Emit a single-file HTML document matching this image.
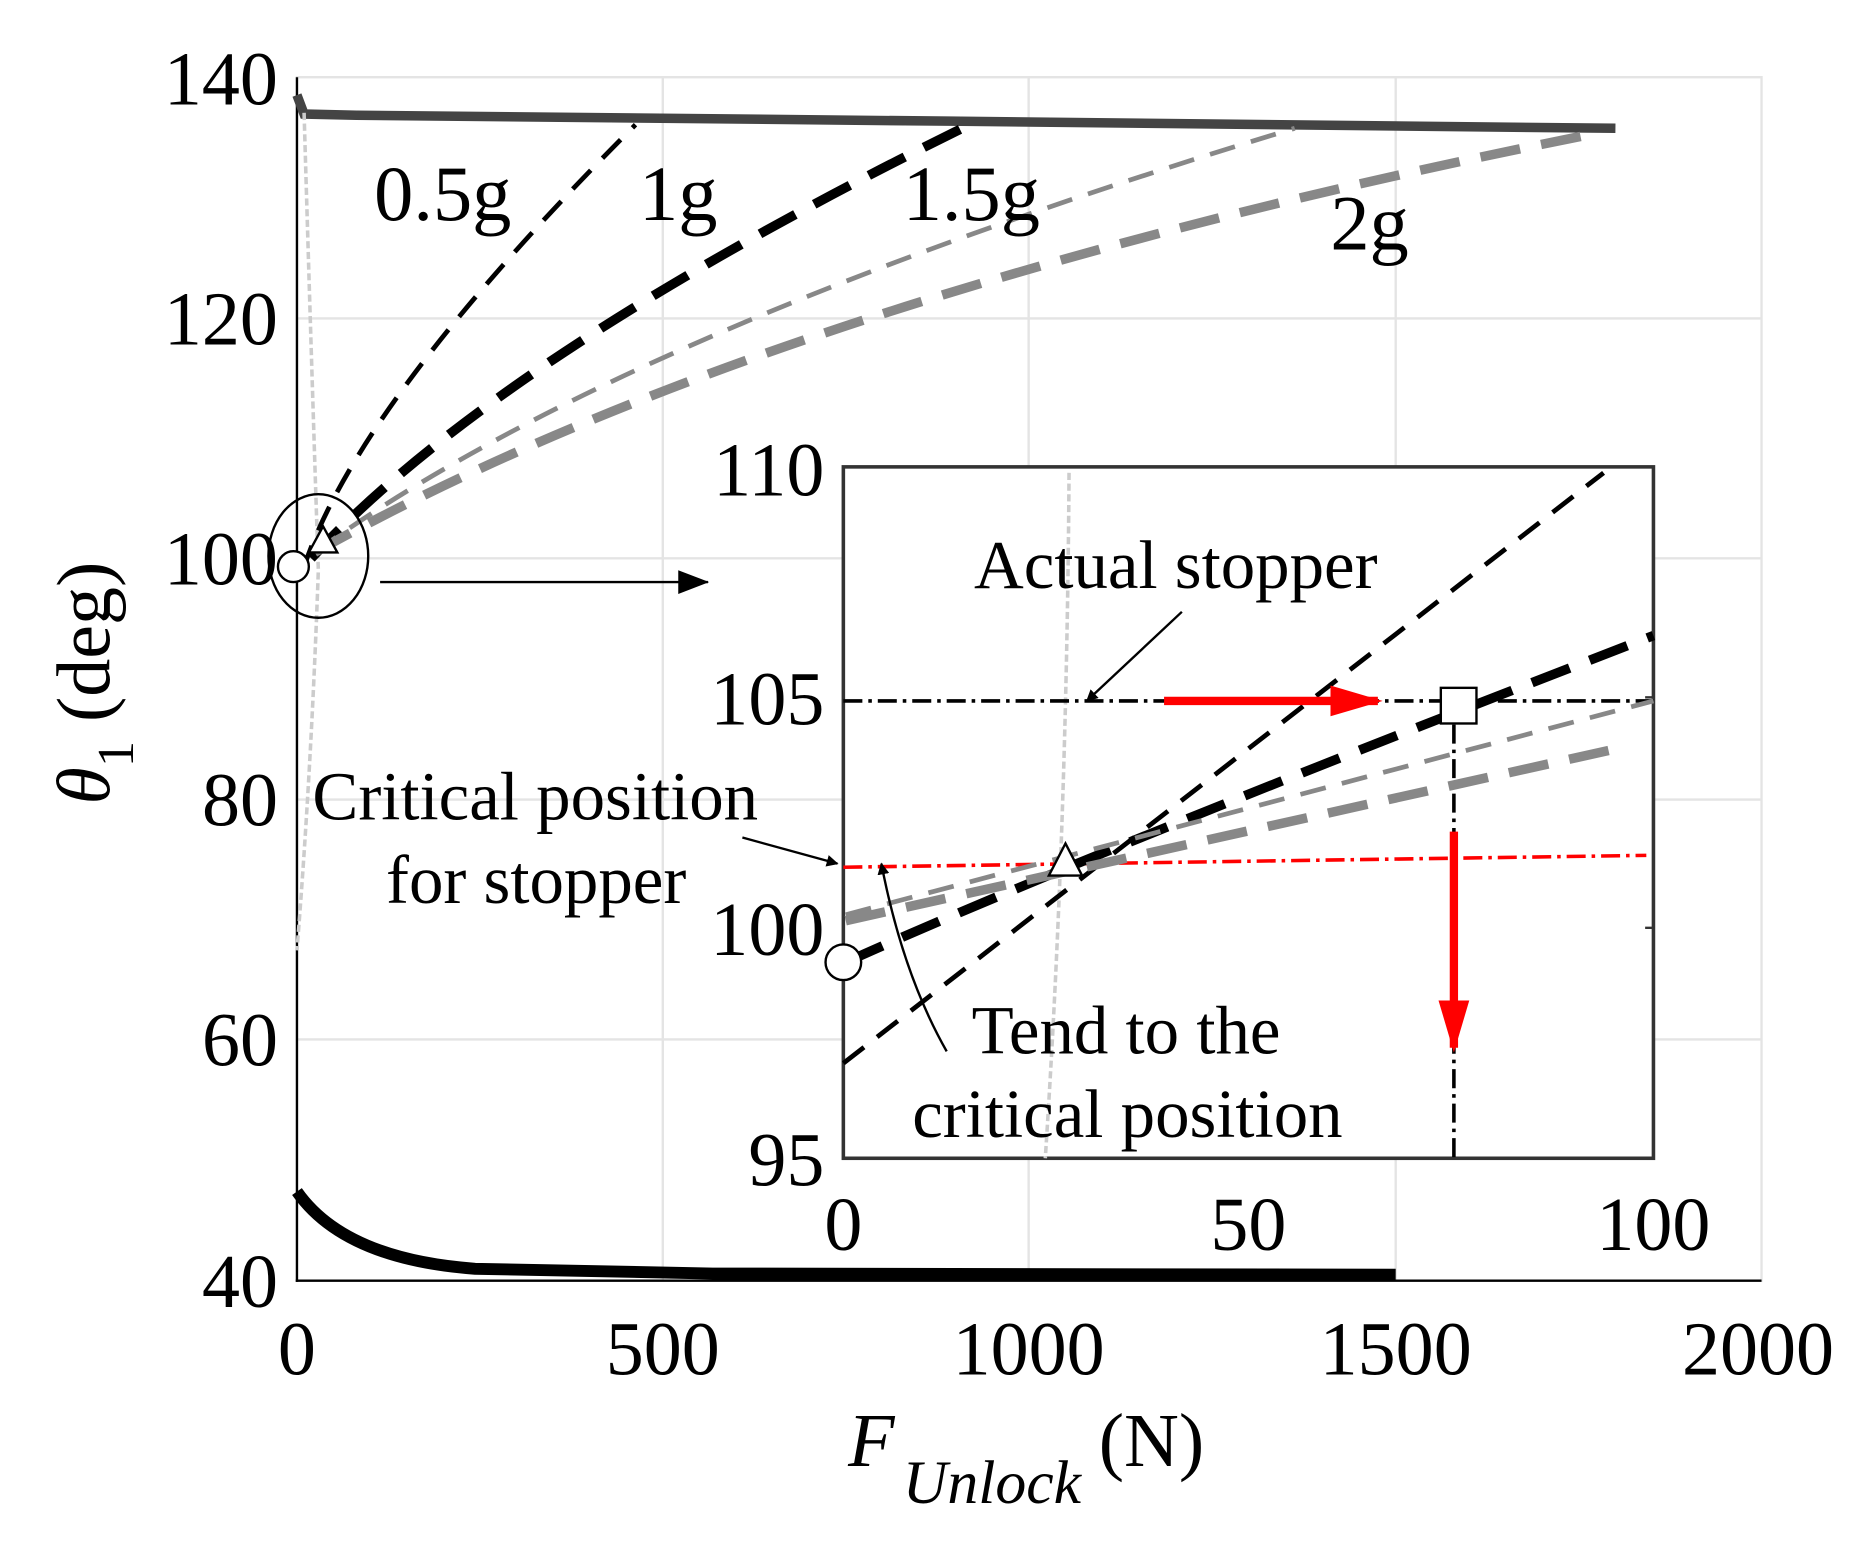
<!DOCTYPE html>
<html><head><style>html,body{margin:0;padding:0;background:#fff}svg{display:block}</style></head><body>
<svg width="1853" height="1542" viewBox="0 0 1560 1298" preserveAspectRatio="none" xmlns="http://www.w3.org/2000/svg" font-family="Liberation Serif, serif">
<defs>
<marker id="ab" markerWidth="10" markerHeight="10" refX="9" refY="5" orient="auto" markerUnits="userSpaceOnUse"><path d="M0,0 L10,5 L0,10z" fill="#000"/></marker>
<marker id="ab2" markerWidth="26" markerHeight="20" refX="25" refY="10" orient="auto" markerUnits="userSpaceOnUse"><path d="M0,0 L26,10 L0,20z" fill="#000"/></marker>
<marker id="ar" markerWidth="44" markerHeight="26" refX="40" refY="13" orient="auto" markerUnits="userSpaceOnUse"><path d="M0,0 L44,13 L0,26z" fill="#f00"/></marker>
</defs>
<g stroke="#e4e4e4" stroke-width="2">
<line x1="250" y1="268" x2="1483" y2="268"/><line x1="250" y1="470" x2="1483" y2="470"/><line x1="250" y1="673" x2="1483" y2="673"/><line x1="250" y1="875" x2="1483" y2="875"/>
<line x1="558" y1="65" x2="558" y2="1078"/><line x1="866" y1="65" x2="866" y2="1078"/><line x1="1175" y1="65" x2="1175" y2="1078"/>
<rect x="250" y="65" width="1233" height="1013" fill="none"/>
</g>
<line x1="250" y1="65" x2="250" y2="1079" stroke="#000" stroke-width="2"/>
<line x1="249" y1="1078" x2="1483" y2="1078" stroke="#000" stroke-width="2"/>
<g font-size="64" text-anchor="end">
<text x="234" y="88">140</text><text x="234" y="290">120</text><text x="234" y="492">100</text><text x="234" y="695">80</text><text x="234" y="897">60</text><text x="234" y="1100">40</text>
</g>
<g font-size="64" text-anchor="middle">
<text x="250" y="1157">0</text><text x="558" y="1157">500</text><text x="866" y="1157">1000</text><text x="1175" y="1157">1500</text><text x="1480" y="1157">2000</text>
</g>
<text font-size="64" font-style="italic" x="714" y="1234">F</text>
<text font-size="52" font-style="italic" x="760" y="1265">Unlock</text>
<text font-size="64" x="925" y="1234">(N)</text>
<g transform="translate(92,575) rotate(-90)"><text font-size="64" text-anchor="middle"><tspan font-style="italic">θ</tspan><tspan font-size="44" dy="20">1</tspan><tspan dy="-20"> (deg)</tspan></text></g>
<path d="M250,80 L256,96 L300,97 L800,102 L1360,108" fill="none" stroke="#444" stroke-width="8"/>
<path d="M250,1003 Q290,1060 400,1068 L600,1072 L1175,1073" fill="none" stroke="#000" stroke-width="10"/>
<path d="M256,95 Q262,300 268,480 Q262,650 250,800" fill="none" stroke="#ccc" stroke-width="3" stroke-dasharray="6,3"/>
<path d="M255,480 Q300,340 535,105" fill="none" stroke="#000" stroke-width="4" stroke-dasharray="22,14"/>
<path d="M262,470 Q420,300 810,108" fill="none" stroke="#000" stroke-width="8" stroke-dasharray="34,18"/>
<path d="M265,465 Q520,280 1090,108" fill="none" stroke="#888" stroke-width="4" stroke-dasharray="22,14"/>
<path d="M265,465 Q650,250 1345,112" fill="none" stroke="#888" stroke-width="8" stroke-dasharray="34,18"/>
<ellipse cx="268" cy="468" rx="42" ry="52" fill="none" stroke="#000" stroke-width="2"/>
<circle cx="247" cy="477" r="13" fill="#fff" stroke="#000" stroke-width="2"/>
<path d="M272,443 L284,465 L260,465z" fill="#fff" stroke="#000" stroke-width="2"/>
<line x1="320" y1="490" x2="596" y2="490" stroke="#000" stroke-width="2" marker-end="url(#ab2)"/>
<g font-size="66"><text x="315" y="185">0.5g</text><text x="538" y="185">1g</text><text x="760" y="185">1.5g</text><text x="1120" y="210">2g</text></g>
<rect x="710" y="393" width="682" height="582" fill="#fff" stroke="#333" stroke-width="3"/>
<line x1="1385" y1="587" x2="1392" y2="587" stroke="#333" stroke-width="2"/>
<line x1="1385" y1="781" x2="1392" y2="781" stroke="#333" stroke-width="2"/>
<path d="M900,398 Q898,700 880,975" fill="none" stroke="#ccc" stroke-width="3" stroke-dasharray="6,3"/>
<line x1="710" y1="590" x2="1392" y2="590" stroke="#000" stroke-width="3" stroke-dasharray="16,5,3,5"/>
<line x1="710" y1="730" x2="1386" y2="720" stroke="#f00" stroke-width="3" stroke-dasharray="16,5,3,5"/>
<line x1="1224" y1="610" x2="1224" y2="975" stroke="#000" stroke-width="3" stroke-dasharray="16,5,3,5"/>
<path d="M710,895 L1350,398" fill="none" stroke="#000" stroke-width="4" stroke-dasharray="22,14"/>
<path d="M712,810 Q900,725 1392,535" fill="none" stroke="#000" stroke-width="8" stroke-dasharray="34,18"/>
<path d="M712,770 L1392,590" fill="none" stroke="#888" stroke-width="4" stroke-dasharray="22,14"/>
<path d="M712,775 L1362,630" fill="none" stroke="#888" stroke-width="8" stroke-dasharray="34,18"/>
<line x1="980" y1="590" x2="1160" y2="590" stroke="#f00" stroke-width="7" marker-end="url(#ar)"/>
<line x1="1224" y1="700" x2="1224" y2="882" stroke="#f00" stroke-width="7" marker-end="url(#ar)"/>
<rect x="1213" y="579" width="30" height="30" fill="#fff" stroke="#000" stroke-width="2"/>
<path d="M897,710 L911,737 L883,737z" fill="#fff" stroke="#000" stroke-width="2"/>
<circle cx="710" cy="810" r="15" fill="#fff" stroke="#000" stroke-width="2"/>
<line x1="995" y1="515" x2="915" y2="590" stroke="#000" stroke-width="2" marker-end="url(#ab)"/>
<line x1="625" y1="705" x2="705" y2="727" stroke="#000" stroke-width="2" marker-end="url(#ab)"/>
<path d="M797,885 Q760,820 742,727" fill="none" stroke="#000" stroke-width="2" marker-end="url(#ab)"/>
<g font-size="64" text-anchor="end">
<text x="694" y="417">110</text><text x="694" y="610">105</text><text x="694" y="804">100</text><text x="694" y="998">95</text>
</g>
<g font-size="64" text-anchor="middle"><text x="710" y="1052">0</text><text x="1051" y="1052">50</text><text x="1392" y="1052">100</text></g>
<g font-size="58">
<text x="820" y="495">Actual stopper</text>
<text x="263" y="690">Critical position</text>
<text x="325" y="760">for stopper</text>
<text x="818" y="887">Tend to the</text>
<text x="768" y="957">critical position</text>
</g>
</svg>
</body></html>
